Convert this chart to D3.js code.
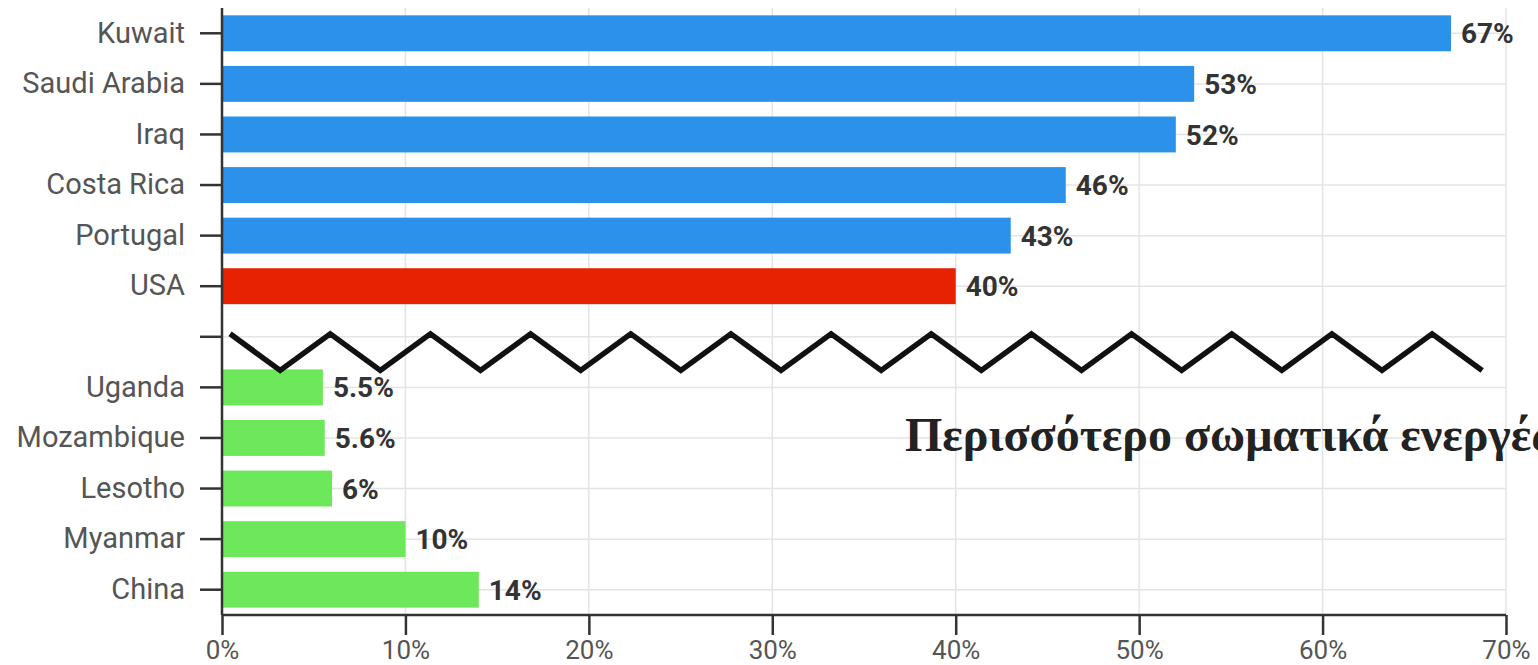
<!DOCTYPE html>
<html>
<head>
<meta charset="utf-8">
<script src="https://cdn.jsdelivr.net/npm/d3@7"></script>
<style>
  html, body { margin: 0; padding: 0; background: #fff; overflow: hidden; }
  svg { display: block; }
</style>
</head>
<body>
<svg id="chart" width="1538" height="665"></svg>
<script>
// ---- Data ----
const categories = ["Kuwait", "Saudi Arabia", "Iraq", "Costa Rica", "Portugal", "USA", "", "Uganda", "Mozambique", "Lesotho", "Myanmar", "China"];
const values = [67, 53, 52, 46, 43, 40, null, 5.5, 5.6, 6, 10, 14];
const valueLabels = ["67%", "53%", "52%", "46%", "43%", "40%", "", "5.5%", "5.6%", "6%", "10%", "14%"];
const groups = ["high", "high", "high", "high", "high", "usa", "break", "low", "low", "low", "low", "low"];
const xTicks = [0, 10, 20, 30, 40, 50, 60, 70];
const xTickLabels = ["0%", "10%", "20%", "30%", "40%", "50%", "60%", "70%"];
const zigzagRange = [0.44, 68.7];
const zigzagSegments = 25;
const annotation = "Περισσότερο σωματικά ενεργές χώρες";

// ---- Layout ----
const colors = { high: "#2b91ea", usa: "#e62200", low: "#6de85b" };
const svg = d3.select("#chart");
const mLeft = 222, mRight = 1506, mTop = 8, mBottom = 615;

const x = d3.scaleLinear().domain([0, 70]).range([mLeft, mRight]);
const y = d3.scaleBand().domain(d3.range(categories.length)).range([mTop, mBottom])
  .paddingInner(0.29).paddingOuter(0.145);

// gridlines
const grid = svg.append("g");
grid.selectAll("line.v").data(xTicks.slice(1)).join("line").attr("class", "v")
  .attr("x1", d => x(d)).attr("x2", d => x(d))
  .attr("y1", mTop).attr("y2", mBottom)
  .attr("stroke", "#e4e4e4").attr("stroke-width", 1.5);
grid.selectAll("line.h").data(d3.range(categories.length)).join("line").attr("class", "h")
  .attr("x1", mLeft).attr("x2", mRight)
  .attr("y1", d => y(d) + y.bandwidth() / 2).attr("y2", d => y(d) + y.bandwidth() / 2)
  .attr("stroke", "#e4e4e4").attr("stroke-width", 1.5);

// bars
const barData = d3.range(categories.length).filter(i => values[i] !== null);
svg.append("g").selectAll("rect").data(barData).join("rect")
  .attr("x", x(0))
  .attr("y", i => y(i))
  .attr("width", i => x(values[i]) - x(0))
  .attr("height", y.bandwidth())
  .attr("fill", i => colors[groups[i]]);

// value labels
svg.append("g").selectAll("text").data(barData).join("text")
  .attr("x", i => x(values[i]) + 10)
  .attr("y", i => y(i) + y.bandwidth() / 2)
  .attr("dy", "0.36em")
  .attr("font-family", "Roboto, sans-serif")
  .attr("font-weight", "bold")
  .attr("font-size", 28)
  .attr("fill", "#333")
  .text(i => valueLabels[i]);

// y axis
const yAxis = d3.axisLeft(y).tickSize(22).tickPadding(15).tickFormat(i => categories[i]);
const gy = svg.append("g").attr("transform", `translate(${mLeft},0)`).call(yAxis);
gy.select(".domain").attr("stroke", "#333").attr("stroke-width", 2.5)
  .attr("d", `M0,${mTop}V${mBottom}`);
gy.selectAll(".tick line").attr("stroke", "#333").attr("stroke-width", 2.5);
gy.selectAll(".tick text").attr("font-family", "Roboto, sans-serif").attr("font-size", 29).attr("fill", "#555");

// x axis
const xAxis = d3.axisBottom(x).tickValues(xTicks).tickSize(20).tickPadding(6).tickFormat((d, i) => xTickLabels[i]);
const gx = svg.append("g").attr("transform", `translate(0,${mBottom})`).call(xAxis);
gx.select(".domain").attr("stroke", "#333").attr("stroke-width", 2.5).attr("d", `M${mLeft},0H${mRight}`);
gx.selectAll(".tick line").attr("stroke", "#333").attr("stroke-width", 2.5);
gx.selectAll(".tick text").attr("font-family", "Roboto, sans-serif").attr("font-size", 26)
  .attr("fill", "#555").attr("y", 43.5).attr("dy", null);

// zigzag break marker
const breakIdx = groups.indexOf("break");
const zTop = y(breakIdx) + y.bandwidth() / 2 - 3;
const zBot = y(breakIdx + 1) + 1;
const zigPts = d3.range(zigzagSegments + 1).map(k => [
  x(zigzagRange[0] + (zigzagRange[1] - zigzagRange[0]) * k / zigzagSegments),
  k % 2 === 0 ? zTop : zBot
]);
svg.append("path").attr("d", d3.line()(zigPts))
  .attr("fill", "none").attr("stroke", "#111").attr("stroke-width", 5.5)
  .attr("stroke-linejoin", "miter");

// annotation
svg.append("text")
  .attr("x", 905).attr("y", 451)
  .attr("font-family", "'Liberation Serif', 'Times New Roman', serif")
  .attr("font-weight", "bold")
  .attr("font-size", 48)
  .attr("fill", "#222")
  .text(annotation);
</script>
</body>
</html>
